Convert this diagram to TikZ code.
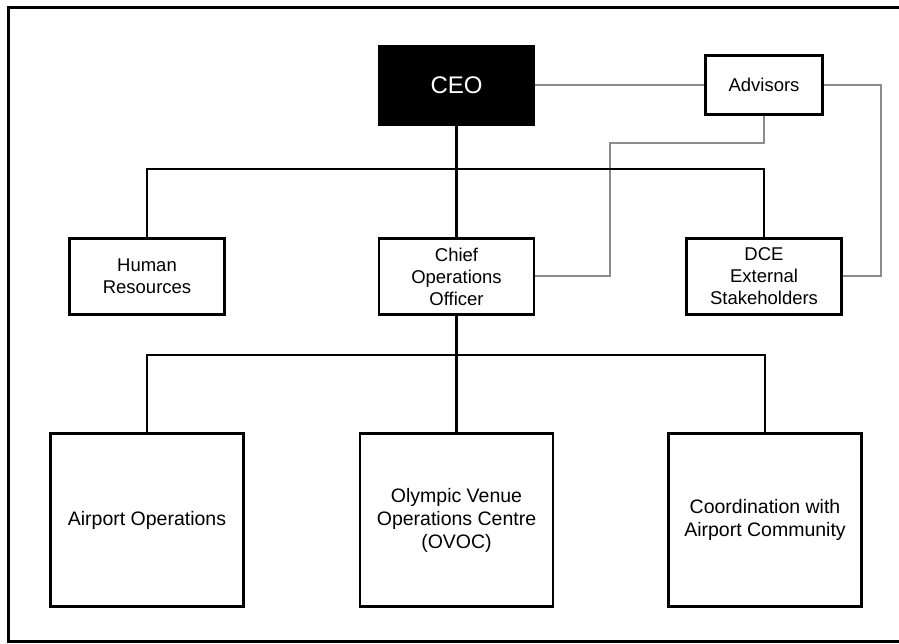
\documentclass[tikz,border=0pt]{standalone}
\usepackage{fontspec}
\setmainfont{Liberation Sans}
\usetikzlibrary{shapes,arrows,positioning}
\tikzstyle{line} = [draw, line width=2.6pt]
\tikzstyle{gline} = [draw, line width=2pt, black!45]
\tikzstyle{boss} = [draw, rectangle, fill=black, text=white, minimum width=156pt, minimum height=80pt, font=\fontsize{24}{28}\selectfont]
\tikzstyle{adv} = [draw, rectangle, line width=2.2pt, minimum width=117pt, minimum height=59pt, font=\fontsize{18.5}{22}\selectfont]
\tikzstyle{block} = [draw, rectangle, line width=2.2pt, align=center, minimum width=155pt, minimum height=76pt, font=\fontsize{18.5}{22}\selectfont]
\tikzstyle{block2} = [draw, rectangle, line width=2.2pt, align=center, minimum width=193pt, minimum height=173pt, font=\fontsize{19.5}{23}\selectfont]

\begin{document}
\begin{tikzpicture}
    \useasboundingbox[fill=white] (0pt,0pt) rectangle (899pt,-644pt);
    \draw[line width=3pt] (899pt,-8pt) -- (8pt,-8pt) -- (8pt,-641pt) -- (899pt,-641pt);
    \node [boss] at (456.5pt,-85pt) (idx0) {CEO};
    \node [adv, right of=idx0, node distance=307.5pt] (idx1) {Advisors};
    \node [block, below of=idx0, node distance=191.5pt] (idx2) {Chief\\Operations\\Officer};
    \node [block, left of=idx2, node distance=309.5pt] (idx3) {Human\\Resources};
    \node [block, right of=idx2, node distance=307.5pt] (idx4) {DCE\\External\\Stakeholders};
    \node [block2, below of=idx2, node distance=243.5pt] (idx5) {Olympic Venue\\Operations Centre\\(OVOC)};
    \node [block2, left of=idx5, node distance=309.5pt] (idx6) {Airport Operations};
    \node [block2, right of=idx5, node distance=308.5pt] (idx7) {Coordination with\\Airport Community};
    \coordinate (bus1) at (456.5pt,-169pt);
    \coordinate (bus2) at (456.5pt,-355pt);
    \coordinate (g1) at (610pt,-143pt);
    \coordinate (g2) at (881pt,-85pt);
    % advisors links
    \path [gline] (idx0.east) -- (idx1.west);
    \path [gline] (idx1.east) -- (g2) |- (idx4.east);
    \path [gline] (idx1.south) |- (g1) |- (idx2.east);
    % reporting lines
    \path [line] (idx0) -- (idx2);
    \path [line] (idx3.north) |- (bus1) -| (idx4.north);
    \path [line] (idx2) -- (idx5);
    \path [line] (idx6.north) |- (bus2) -| (idx7.north);
\end{tikzpicture}
\end{document}
